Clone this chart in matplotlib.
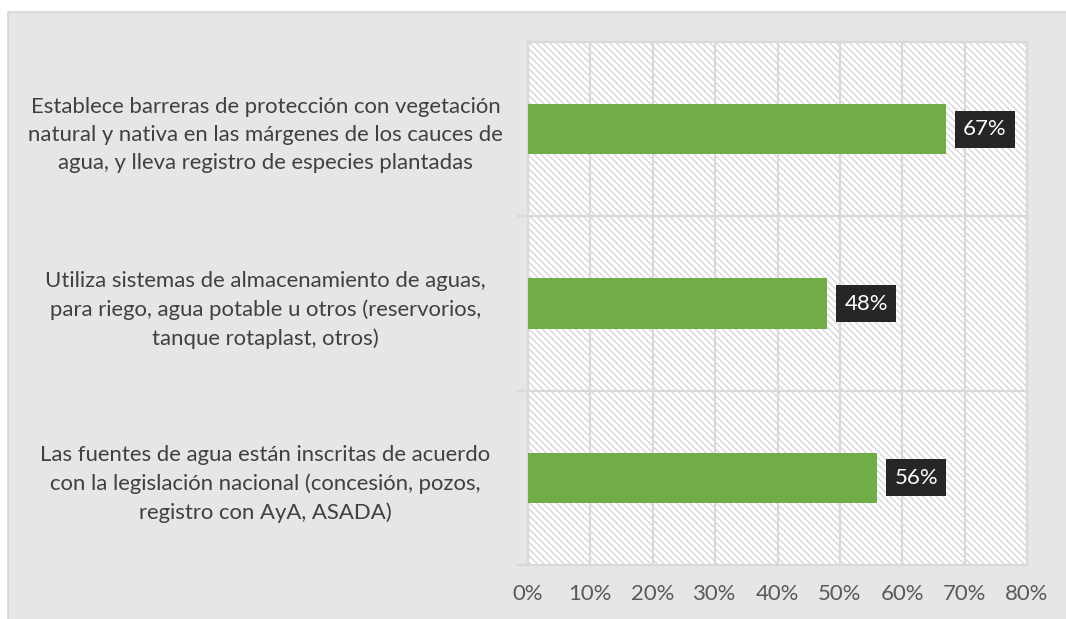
import matplotlib
matplotlib.use("Agg")
import matplotlib.pyplot as plt
from matplotlib.patches import Rectangle
from matplotlib.ticker import FixedLocator, PercentFormatter

categories = [
    "Establece barreras de protección con vegetación\nnatural y nativa en las márgenes de los cauces de\nagua, y lleva registro de especies plantadas",
    "Utiliza sistemas de almacenamiento de aguas,\npara riego, agua potable u otros (reservorios,\ntanque rotaplast, otros)",
    "Las fuentes de agua están inscritas de acuerdo\ncon la legislación nacional (concesión, pozos,\nregistro con AyA, ASADA)",
]
values = [0.67, 0.48, 0.56]
x_ticks = [0.0, 0.1, 0.2, 0.3, 0.4, 0.5, 0.6, 0.7, 0.8]

plt.rcParams["font.family"] = ["Lato", "DejaVu Sans"]
plt.rcParams["hatch.linewidth"] = 1.0

BAR = "#70ad47"
GRID = "#d9d9d9"
PANEL = "#e6e6e6"
TEXT = "#404040"
TICK = "#595959"
FS = 15.9

fig = plt.figure(figsize=(10.66, 6.19), dpi=100)
fig.patch.set_facecolor("white")

# grey chart panel behind everything
fig.add_artist(Rectangle((8 / 1066, -0.01), 1.0, 1 - 12 / 619 + 0.01,
                         transform=fig.transFigure, facecolor=PANEL,
                         edgecolor="#d6d6d6", linewidth=1.2, zorder=-10))

ax = fig.add_axes([528 / 1066, 1 - 565 / 619, (1027 - 528) / 1066, (565 - 42) / 619])
ax.set_facecolor("white")

# hatched plot background
ax.add_patch(Rectangle((0, 0), 1, 1, transform=ax.transAxes, facecolor="white",
                       edgecolor="#d6d6d6", hatch="\\" * 5, linewidth=0, zorder=0))

y = list(range(len(categories)))
ax.barh(y, values, height=0.29, color=BAR, zorder=3)

ax.set_xlim(0, 0.8)
ax.set_ylim(len(categories) - 0.5, -0.5)

ax.xaxis.set_major_locator(FixedLocator(x_ticks))
ax.xaxis.set_major_formatter(PercentFormatter(1.0, decimals=0))
ax.grid(axis="x", color=GRID, linewidth=1.6, zorder=1)
ax.tick_params(axis="x", length=0, pad=14, labelsize=FS, labelcolor=TICK)

# category labels on major ticks, separators on minor ticks
ax.set_yticks(y)
ax.set_yticklabels(categories, fontsize=FS, color=TEXT, ha="center", multialignment="center",
                   linespacing=1.5)
ax.tick_params(axis="y", which="major", length=0, pad=189)
ax.set_yticks([0.5, 1.5, 2.5], minor=True)
ax.tick_params(axis="y", which="minor", length=8, width=1.6, color=GRID)
for b in [0.5, 1.5]:
    ax.axhline(b, color=GRID, linewidth=1.6, zorder=1)

for s in ax.spines.values():
    s.set_color(GRID)
    s.set_linewidth(1.6)
    s.set_zorder(2)

for yi, v in zip(y, values):
    ax.annotate(f"{v:.0%}", xy=(v, yi), xytext=(12.3, 0), textcoords="offset points",
                ha="left", va="center", fontsize=FS, color="white", zorder=5,
                bbox=dict(boxstyle="square,pad=0.38", facecolor="#262626", edgecolor="none"))

fig.savefig("out.png", dpi=100)
